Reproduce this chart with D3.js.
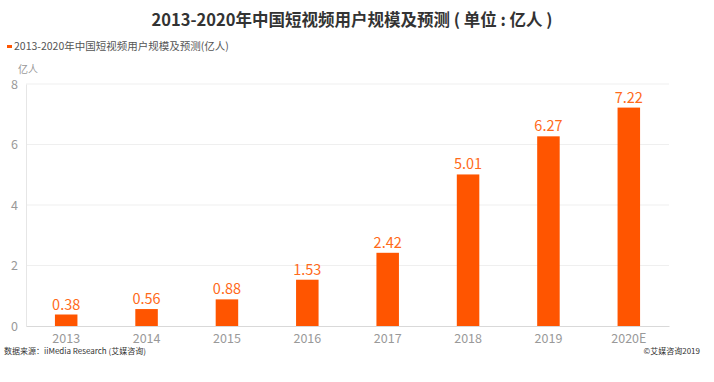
<!DOCTYPE html>
<html><head><meta charset="utf-8">
<script src="https://cdn.jsdelivr.net/npm/d3@7/dist/d3.min.js"></script>
<style>body{margin:0;background:#fff}svg{display:block}</style>
</head><body><svg id="c" width="714" height="382"></svg>
<script>
const categories = ["2013","2014","2015","2016","2017","2018","2019","2020E"];
const values = [0.38,0.56,0.88,1.53,2.42,5.01,6.27,7.22];
const yTicks = [0,2,4,6,8];
const chartTitle = "2013-2020年中国短视频用户规模及预测 ( 单位 : 亿人 )";
const legendLabel = "2013-2020年中国短视频用户规模及预测(亿人)";
const unitLabel = "亿人";
const sourceText = "数据来源：iiMedia Research (艾媒咨询)";
const copyText = "©艾媒咨询2019";

(function(){
const svg = d3.select("#c");
const font = "'Noto Sans CJK SC','Noto Sans',sans-serif";
const pLeft = 26, pRight = 669, pTop = 84, pBottom = 326;
const x = d3.scaleBand().domain(categories).range([pLeft, pRight]).paddingInner(0.72).paddingOuter(0.36);
const y = d3.scaleLinear().domain([0, 8]).range([pBottom, pTop]);

svg.append("text").attr("x", 352).attr("y", 26).attr("text-anchor", "middle")
  .attr("font-family", font).attr("font-size", 16.5).attr("font-weight", "bold").attr("fill", "#333")
  .text(chartTitle);

svg.append("rect").attr("x", 7).attr("y", 45).attr("width", 5).attr("height", 3).attr("fill", "#FF5500");
svg.append("text").attr("x", 14).attr("y", 50).attr("font-family", font).attr("font-size", 10.5).attr("fill", "#555").text(legendLabel);
svg.append("text").attr("x", 18).attr("y", 73).attr("font-family", font).attr("font-size", 10).attr("fill", "#999").text(unitLabel);

svg.append("g").selectAll("line").data(yTicks.filter(d => d > 0)).join("line")
  .attr("x1", pLeft).attr("x2", pRight).attr("y1", d => y(d)).attr("y2", d => y(d))
  .attr("stroke", "#efefef").attr("stroke-width", 1);

const yAxis = svg.append("g").attr("transform", `translate(${pLeft},0)`)
  .call(d3.axisLeft(y).tickValues(yTicks).tickSize(0).tickPadding(8));
yAxis.select(".domain").attr("stroke", "#e6e6e6");
yAxis.selectAll("text").attr("font-family", font).attr("font-size", 12.5).attr("fill", "#999");

const xAxis = svg.append("g").attr("transform", `translate(0,${pBottom})`)
  .call(d3.axisBottom(x).tickSize(0).tickPadding(8));
xAxis.select(".domain").attr("stroke", "#d9d9d9");
xAxis.selectAll("text").attr("font-family", font).attr("font-size", 12.5).attr("fill", "#999");

svg.append("g").selectAll("rect").data(values).join("rect")
  .attr("x", (d, i) => x(categories[i])).attr("width", x.bandwidth())
  .attr("y", d => y(d)).attr("height", d => pBottom - y(d)).attr("fill", "#FF5500");

svg.append("g").selectAll("text").data(values).join("text")
  .attr("x", (d, i) => x(categories[i]) + x.bandwidth() / 2).attr("y", d => y(d) - 5)
  .attr("text-anchor", "middle").attr("font-family", font).attr("font-size", 14.5).attr("fill", "#FF6A1A")
  .text(d => d.toFixed(2));

svg.append("text").attr("x", 4).attr("y", 354).attr("font-family", font).attr("font-size", 8).attr("fill", "#333").text(sourceText);
svg.append("text").attr("x", 700).attr("y", 354).attr("text-anchor", "end").attr("font-family", font).attr("font-size", 8).attr("fill", "#333").text(copyText);
})();
</script></body></html>
